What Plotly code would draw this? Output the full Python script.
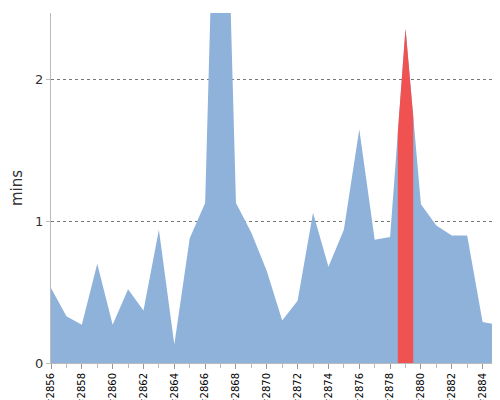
import numpy as np
import plotly.graph_objects as go

builds = list(range(2856, 2886))
mins = [0.53, 0.33, 0.27, 0.70, 0.27, 0.52, 0.37, 0.94, 0.13, 0.88,
        1.13, 5.1, 1.13, 0.92, 0.65, 0.30, 0.44, 1.06, 0.68, 0.94,
        1.65, 0.87, 0.89, 2.36, 1.12, 0.97, 0.90, 0.90, 0.29, 0.27]
highlight = 2879

fig = go.Figure()
fig.add_trace(go.Scatter(x=builds, y=mins, mode="lines", fill="tozeroy",
                         line=dict(width=0, color="#8fb2da"), fillcolor="#8fb2da",
                         hoverinfo="skip"))

# red band around the highlighted build
hx = np.array([highlight - 0.5, highlight, highlight + 0.5])
hy = np.interp(hx, builds, mins)
fig.add_trace(go.Scatter(x=hx, y=hy, mode="lines", fill="tozeroy",
                         line=dict(width=0, color="#f05252"), fillcolor="#f05252",
                         hoverinfo="skip"))

fig.update_layout(
    width=500, height=400, showlegend=False,
    paper_bgcolor="white", plot_bgcolor="white",
    margin=dict(l=43, r=10, t=5, b=45),
    font=dict(family="DejaVu Sans", color="#333"),
)
fig.update_xaxes(range=[2856, 2885], tickmode="array", automargin=False,
                 tickvals=builds[::2], ticktext=["#%d" % b for b in builds[::2]],
                 tickangle=-90, tickfont=dict(size=10, color="black"),
                 ticks="outside", ticklen=5, tickcolor="#999",
                 showgrid=False, showline=True, linecolor="#bbb",
                 minor=dict(dtick=1, ticks="outside", ticklen=4, tickcolor="#bbb"))
fig.update_yaxes(range=[0, 2.47], tickvals=[0, 1, 2], tickfont=dict(size=13),
                 automargin=False,
                 title=dict(text="mins", font=dict(size=15), standoff=8),
                 showgrid=True, gridcolor="#777", griddash="dot", gridwidth=1,
                 zeroline=False, showline=True, linecolor="#bbb",
                 ticks="outside", ticklen=4, tickcolor="#bbb")

fig.write_html("out.html")
